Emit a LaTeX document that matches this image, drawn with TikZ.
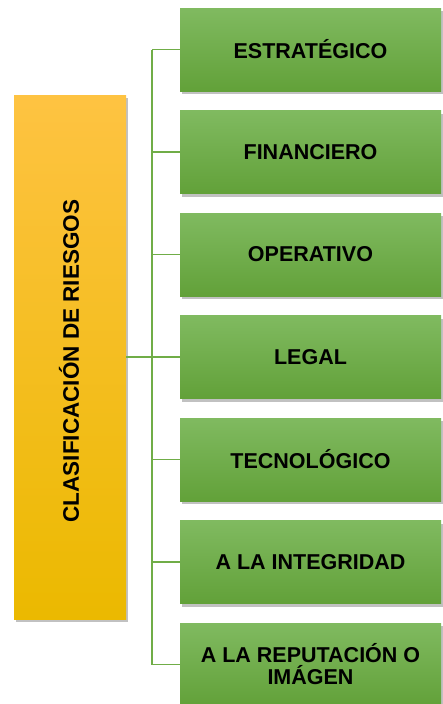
\documentclass[tikz,border=0pt]{standalone}
\usepackage{fontspec}
\setmainfont{Liberation Sans}
\usetikzlibrary{shadows,positioning,calc}
\definecolor{grtop}{RGB}{128,186,96}
\definecolor{grbot}{RGB}{98,161,57}
\definecolor{yltop}{RGB}{254,195,66}
\definecolor{ylmid}{RGB}{255,199,10}
\definecolor{ylbot}{RGB}{235,185,0}
\definecolor{linegr}{RGB}{112,173,71}

\begin{document}
\begin{tikzpicture}[x=1pt,y=-1pt,
    riskbox/.style={rectangle,minimum width=261pt,minimum height=83pt,inner sep=0pt,
      top color=grtop,bottom color=grbot,align=center,
      font=\fontsize{21.5}{22}\selectfont\bfseries,
      drop shadow={shadow xshift=2pt,shadow yshift=-3pt,opacity=.35,fill=black!70}},
    mainbox/.style={rectangle,minimum width=112pt,minimum height=524pt,inner sep=0pt,
      top color=yltop,middle color=ylmid,bottom color=ylbot,
      drop shadow={shadow xshift=2pt,shadow yshift=-3pt,opacity=.35,fill=black!70}},
    link/.style={draw=linegr,line width=1.8pt}]
        \useasboundingbox (0,0) rectangle (443,704);

        % Main category
        \node[mainbox] (riesgos) at (70,357) {};
        \node[rotate=90,font=\fontsize{22.5}{24}\selectfont\bfseries] (riesgostxt) at (69,361) {CLASIFICACIÓN DE RIESGOS};

        % Risk types
        \node[riskbox] (estr) at (310.5,49.5) {ESTRATÉGICO};
        \node[riskbox] (fin) at (310.5,152) {FINANCIERO};
        \node[riskbox] (oper) at (310.5,254.5) {OPERATIVO};
        \node[riskbox] (legal) at (310.5,357) {LEGAL};
        \node[riskbox] (tec) at (310.5,459.5) {TECNOLÓGICO};
        \node[riskbox] (integ) at (310.5,562) {A LA INTEGRIDAD};
        \node[riskbox] (rep) at (310.5,664.5) {A LA REPUTACIÓN O\\IMÁGEN};

        % Connectors
        \coordinate (tronco) at (152,357);
        \draw[link] (riesgos.east) -- (tronco);
        \draw[link] (tronco |- estr.west) -- (tronco |- rep.west);
        \draw[link] (tronco |- estr.west) -- (estr.west);
        \draw[link] (tronco |- fin.west) -- (fin.west);
        \draw[link] (tronco |- oper.west) -- (oper.west);
        \draw[link] (tronco |- legal.west) -- (legal.west);
        \draw[link] (tronco |- tec.west) -- (tec.west);
        \draw[link] (tronco |- integ.west) -- (integ.west);
        \draw[link] (tronco |- rep.west) -- (rep.west);
    \end{tikzpicture}
\end{document}
